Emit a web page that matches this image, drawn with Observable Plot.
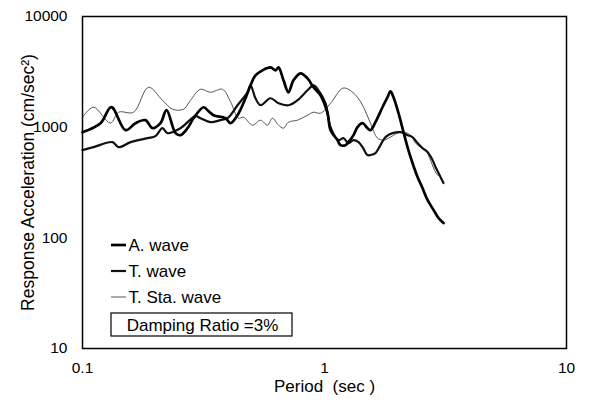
<!DOCTYPE html>
<html>
<head>
<meta charset="utf-8">
<script src="https://cdn.jsdelivr.net/npm/d3@7"></script>
<script src="https://cdn.jsdelivr.net/npm/@observablehq/plot@0.6"></script>
<style>
  html, body { margin: 0; padding: 0; background: #fff; }
  #chart { position: relative; width: 589px; height: 406px; }
</style>
</head>
<body>
<div id="chart"></div>
<script>
// ---- Data ----
const xTicks = [0.1, 1, 10];
const yTicks = [10, 100, 1000, 10000];
const xLabel = "Period  (sec )";
const yLabel = "Response Acceleration (cm/sec²)";
const seriesNames = ["A. wave", "T. wave", "T. Sta. wave"];
const dampingLabel = "Damping Ratio =3%";

const periodA = [0.100,0.1187,0.1315,0.1505,0.1656,0.182,0.1947,0.210,0.2224,0.2423,0.254,0.2716,0.2876,0.3162,0.3286,0.3477,0.39,0.4089,0.437,0.4716,0.4946,0.5186,0.5543,0.598,0.6275,0.6457,0.677,0.7098,0.7444,0.796,0.8507,0.9005,0.9627,1.029,1.059,1.131,1.164,1.221,1.256,1.318,1.369,1.436,1.506,1.549,1.624,1.736,1.821,1.874,1.928,2.022,2.121,2.203,2.31,2.423,2.541,2.665,2.821,2.959,3.102];
const accA = [901,1086,1520,940,1086,1157,979,1086,1423,883,847,979,1205,1514,1423,1283,1205,1086,1283,1825,2390,2941,3263,3472,3263,3472,2651,2066,2651,3066,2763,2293,1942,1337,940,764,688,688,733,847,1000,1086,979,940,1109,1514,1863,2110,1863,1337,901,660,474,355,282,220,179,151,136];

const periodT = [0.100,0.111,0.133,0.141,0.158,0.1856,0.2003,0.214,0.2245,0.254,0.293,0.3073,0.338,0.3717,0.3974,0.437,0.4807,0.4946,0.5186,0.5438,0.598,0.6457,0.7098,0.7733,0.8507,0.9005,0.9445,1.0096,1.059,1.142,1.198,1.256,1.318,1.382,1.436,1.506,1.549,1.624,1.703,1.787,1.91,2.061,2.203,2.31,2.423,2.541,2.665,2.795,2.876,3.015,3.102];
const accT = [621,660,733,660,733,796,830,979,883,979,1257,1205,1109,1157,1205,1579,2066,2390,1825,1579,1825,1645,1579,1751,2154,2390,2154,1645,1000,764,796,718,764,733,660,560,560,583,688,813,883,901,847,813,718,647,596,505,436,355,313];

const periodS = [0.100,0.111,0.1305,0.141,0.1625,0.1873,0.214,0.2355,0.2615,0.2795,0.3073,0.338,0.3788,0.4089,0.441,0.4627,0.504,0.5438,0.5813,0.6095,0.6457,0.677,0.7098,0.7733,0.8507,0.9005,0.9627,1.059,1.187,1.256,1.369,1.45,1.549,1.656,1.753,1.874,2.003,2.121,2.267,2.377,2.493,2.615,2.742,2.821,2.931,3.015,3.102];
const accS = [1231,1514,1090,1365,1365,2293,1751,1453,1453,1751,2200,2066,2200,1700,1205,1231,1042,1157,1042,1205,1042,979,1109,1157,1283,1365,1337,1645,2246,2200,1863,1514,1086,796,764,813,883,901,847,718,660,621,505,428,370,355,313];

const toRows = (ts, vs) => ts.map((t, i) => ({t, v: vs[i]}));
const dataA = toRows(periodA, accA);
const dataT = toRows(periodT, accT);
const dataS = toRows(periodS, accS);

const font = "'Liberation Sans', Arial, Helvetica, sans-serif";

const plot = Plot.plot({
  width: 589,
  height: 406,
  marginLeft: 82,
  marginRight: 23,
  marginTop: 16,
  marginBottom: 58,
  style: {fontFamily: font, fontSize: "15.5px", background: "white", color: "black"},
  x: {type: "log", domain: [0.1, 10], ticks: xTicks, tickFormat: d => String(d), tickSize: 0, tickPadding: 13, label: null},
  y: {type: "log", domain: [10, 10000], ticks: yTicks, tickFormat: d => String(d), tickSize: 0, tickPadding: 15, label: null},
  marks: [
    Plot.line(dataS, {x: "t", y: "v", stroke: "#555", strokeWidth: 1, curve: "catmull-rom"}),
    Plot.line(dataT, {x: "t", y: "v", stroke: "#111", strokeWidth: 2.2, strokeLinejoin: "round", curve: "catmull-rom"}),
    Plot.line(dataA, {x: "t", y: "v", stroke: "#000", strokeWidth: 2.7, strokeLinejoin: "round", curve: "catmull-rom"}),
    Plot.frame({stroke: "black", strokeWidth: 1.5}),
    Plot.text([yLabel], {frameAnchor: "left", dx: -54, rotate: -90, textAnchor: "middle", lineAnchor: "middle", fontSize: 17.5, fill: "black"}),
    Plot.text([xLabel], {frameAnchor: "bottom", dy: 38, textAnchor: "middle", lineAnchor: "middle", fontSize: 17, fill: "black"}),
    ...seriesNames.map((n, i) => Plot.text([n], {frameAnchor: "bottom-left", dx: 46, dy: -(103 - 26 * i), textAnchor: "start", lineAnchor: "middle", fontSize: 17, fill: "black"})),
    Plot.text([dampingLabel], {frameAnchor: "bottom-left", dx: 120, dy: -23, textAnchor: "middle", lineAnchor: "middle", fontSize: 17, fill: "black"})
  ]
});

// legend swatches and damping box
const svg = d3.select(plot);
const g = svg.append("g");
const swatch = [{w: 2.7, c: "#000"}, {w: 2.2, c: "#111"}, {w: 1, c: "#555"}];
swatch.forEach((s, i) => {
  const y = 348 - (103 - 26 * i);
  g.append("line").attr("x1", 111).attr("x2", 126).attr("y1", y).attr("y2", y)
    .attr("stroke", s.c).attr("stroke-width", s.w);
});
g.append("rect").attr("x", 111).attr("y", 313).attr("width", 181).attr("height", 23)
  .attr("fill", "none").attr("stroke", "black").attr("stroke-width", 1.2);

document.getElementById("chart").appendChild(plot);
</script>
</body>
</html>
